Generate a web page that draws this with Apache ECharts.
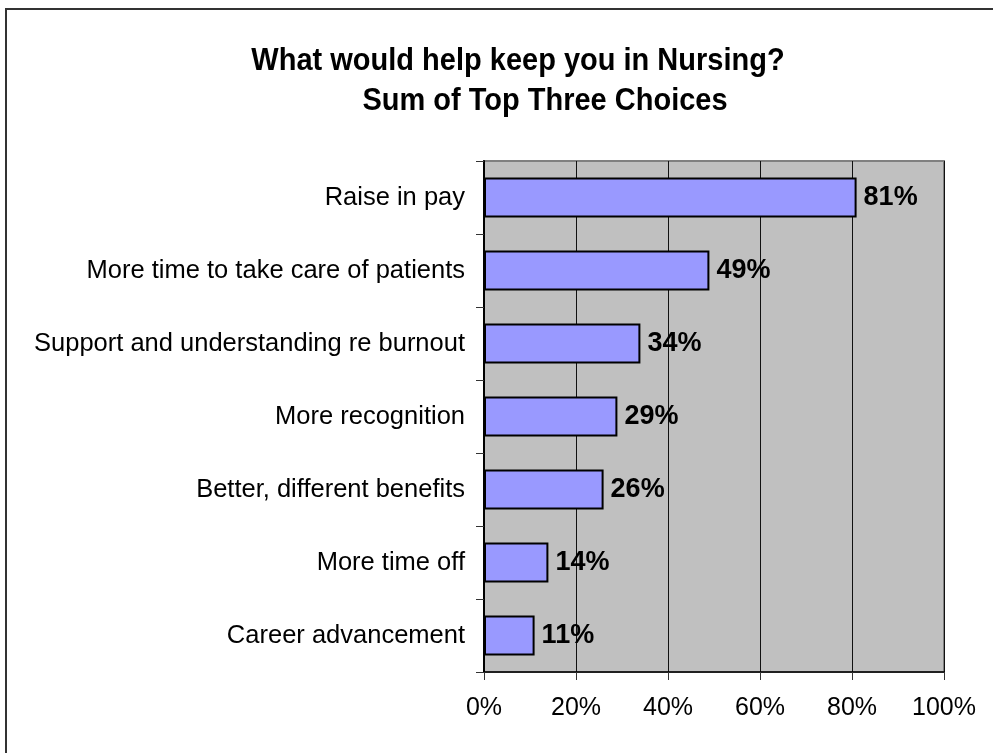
<!DOCTYPE html>
<html>
<head>
<meta charset="utf-8">
<script src="https://cdn.jsdelivr.net/npm/echarts@6/dist/echarts.min.js"></script>
<style>
html,body{margin:0;padding:0;background:#fff;}
#chart{width:993px;height:753px;}
</style>
</head>
<body>
<div id="chart"></div>
<script>
var titleLines = ['What would help keep you in Nursing?', 'Sum of Top Three Choices'];
var categories = ['Raise in pay', 'More time to take care of patients', 'Support and understanding re burnout', 'More recognition', 'Better, different benefits', 'More time off', 'Career advancement'];
var values = [81, 49, 34, 29, 26, 14, 11];
var xTicks = [0, 20, 40, 60, 80, 100];

var chart = echarts.init(document.getElementById('chart'), null, {renderer: 'canvas'});
var FONT = '"Liberation Sans", Arial, sans-serif';
chart.setOption({
  animation: false,
  backgroundColor: '#ffffff',
  graphic: [
    {type: 'rect', shape: {x: 6, y: 9, width: 1100, height: 900}, style: {fill: 'none', stroke: '#333333', lineWidth: 2}, z: 0},
    {type: 'text', x: 518, y: 61, scaleY: 1.08, style: {text: titleLines[0], font: 'bold 29px ' + FONT, fill: '#000', align: 'center', verticalAlign: 'middle'}},
    {type: 'text', x: 545, y: 101, scaleY: 1.08, style: {text: titleLines[1], font: 'bold 29px ' + FONT, fill: '#000', align: 'center', verticalAlign: 'middle'}}
  ],
  grid: {left: 484, right: 49, top: 161, bottom: 81, show: true, backgroundColor: '#C0C0C0', borderColor: '#808080', borderWidth: 2},
  xAxis: {
    type: 'value', min: 0, max: 100, interval: 20,
    axisLine: {show: true, lineStyle: {color: '#000', width: 1.5}},
    axisTick: {show: true, length: 8, lineStyle: {color: '#333'}},
    splitLine: {show: true, lineStyle: {color: '#111', width: 1}},
    axisLabel: {margin: 24, fontFamily: FONT, fontSize: 25, color: '#000', formatter: function (v) { return v + '%'; }}
  },
  yAxis: {
    type: 'category', data: categories, inverse: true,
    axisLine: {show: true, lineStyle: {color: '#000', width: 2}},
    axisTick: {show: true, length: 8, lineStyle: {color: '#333'}},
    axisLabel: {margin: 19, fontFamily: FONT, fontSize: 25.5, color: '#000'}
  },
  series: [{
    type: 'bar', data: values, barCategoryGap: '45%',
    itemStyle: {color: '#9999FF', borderColor: '#000', borderWidth: 2},
    label: {show: true, position: 'right', distance: 7, fontFamily: FONT, fontSize: 27, fontWeight: 'bold', color: '#000', formatter: '{c}%'}
  }]
});
</script>
</body>
</html>
